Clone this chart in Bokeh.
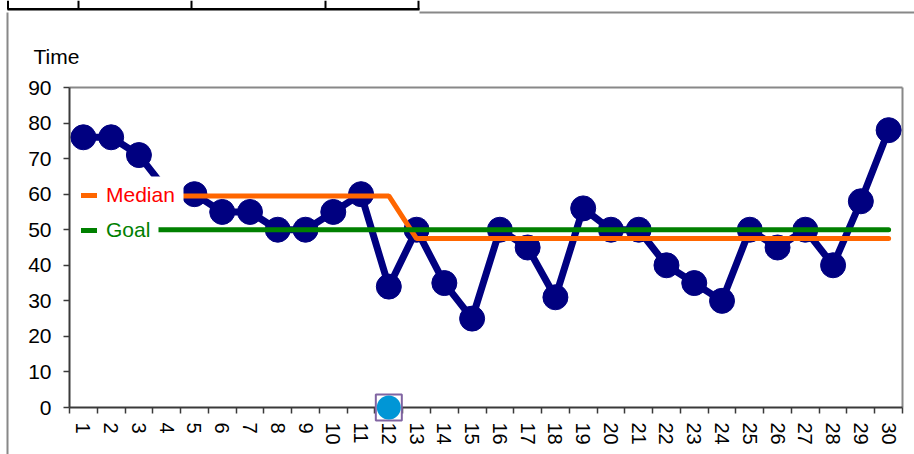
import math
from bokeh.plotting import figure
from bokeh.models import (Range1d, LinearAxis, FixedTicker, Legend, LegendItem, Label)
from bokeh.embed import file_html
from bokeh.resources import INLINE

# ---- data ----
samples = list(range(1, 31))
times = [76, 76, 71, 61, 60, 55, 55, 50, 50, 55,
         60, 34, 50, 35, 25, 50, 45, 31, 56, 50,
         50, 40, 35, 30, 50, 45, 50, 40, 58, 78]
median = [59.5] * 12 + [47.5] * 18
goal = [50] * 30
flag_x = [12]
flag_y = [0]
y_ticks = [0, 10, 20, 30, 40, 50, 60, 70, 80, 90]

FONT = "Liberation Sans"
W, H = 914, 454

# plot-area placement in canvas pixels
PL, PR, PT, PB = 69, 902, 87, 407
x_lo, x_hi = samples[0] - 0.5, samples[-1] + 0.5
y_lo, y_hi = y_ticks[0], y_ticks[-1]
ppu_x = (PR - PL) / (x_hi - x_lo)
ppu_y = (PB - PT) / (y_hi - y_lo)


def px2x(px):
    return x_lo + (px - PL) / ppu_x


def py2y(py):
    return y_lo + (PB - py) / ppu_y


p = figure(width=W, height=H, output_backend="svg", toolbar_location=None,
           x_axis_type=None, y_axis_type=None,
           x_range=Range1d(px2x(0), px2x(W)),
           y_range=Range1d(py2y(H), py2y(0)),
           min_border_left=0, min_border_right=0,
           min_border_top=0, min_border_bottom=0)
p.outline_line_color = None
p.xgrid.visible = False
p.ygrid.visible = False
p.background_fill_color = "white"
p.border_fill_color = "white"

AXC = "#3a3a3a"
GRAY = "#888888"

# surrounding chart furniture: bottom edge of a table and the chart border
p.quad(left=[px2x(0)], right=[px2x(419)], top=[py2y(0)], bottom=[py2y(12)],
       fill_color="white", line_color=None)
p.quad(left=[px2x(7)], right=[px2x(419)], top=[py2y(7.5)], bottom=[py2y(10)],
       fill_color="black", line_color=None)
col_edges = (7.5, 78, 191, 325, 418)
p.segment(x0=[px2x(x) for x in col_edges], y0=[py2y(0)] * 5,
          x1=[px2x(x) for x in col_edges], y1=[py2y(9)] * 5,
          line_color="black", line_width=2)
p.segment(x0=[px2x(419), px2x(7)], y0=[py2y(12), py2y(12)],
          x1=[px2x(W), px2x(7)], y1=[py2y(12), py2y(H)],
          line_color=GRAY, line_width=2)

# plot area border (top and right)
p.segment(x0=[x_lo, x_hi], y0=[y_hi, y_lo], x1=[x_hi, x_hi], y1=[y_hi, y_hi],
          line_color=GRAY, line_width=2)

# y axis
ya = LinearAxis(ticker=FixedTicker(ticks=y_ticks), fixed_location=x_lo,
                bounds=(y_lo, y_hi))
ya.axis_line_color = AXC
ya.axis_line_width = 2
ya.major_tick_line_color = AXC
ya.major_tick_line_width = 1.5
ya.major_tick_out = 6
ya.major_tick_in = 0
ya.minor_tick_line_color = None
ya.major_label_standoff = 12
ya.major_label_text_font = FONT
ya.major_label_text_font_size = "21px"
ya.major_label_text_color = "black"
p.add_layout(ya, "left")

# x axis
boundaries = [s - 0.5 for s in samples] + [samples[-1] + 0.5]
xa = LinearAxis(ticker=FixedTicker(ticks=samples, minor_ticks=boundaries),
                fixed_location=y_lo, bounds=(x_lo, x_hi))
xa.axis_line_color = AXC
xa.axis_line_width = 2
xa.major_tick_out = 0
xa.major_tick_in = 0
xa.major_tick_line_color = None
xa.minor_tick_line_color = AXC
xa.minor_tick_line_width = 1.5
xa.minor_tick_out = 6
xa.minor_tick_in = 0
xa.major_label_orientation = -math.pi / 2
xa.major_label_standoff = 9
xa.major_label_text_font = FONT
xa.major_label_text_font_size = "20px"
xa.major_label_text_color = "black"
p.add_layout(xa, "below")

# data
NAVY = "#000080"
p.line(samples, times, line_color=NAVY, line_width=7)
p.scatter(samples, times, size=25, fill_color=NAVY, line_color=NAVY)

r_med = p.line(samples, median, line_color="#FF6600", line_width=5, line_cap="round")
r_goal = p.line(samples, goal, line_color="#008000", line_width=5, line_cap="round")

# white legend backgrounds (cover the series behind the key)
p.quad(left=[px2x(75), px2x(75)], right=[px2x(183), px2x(158)],
       top=[py2y(176), py2y(212)], bottom=[py2y(212), py2y(247)],
       fill_color="white", line_color=None)

# flagged point
p.scatter(flag_x, flag_y, marker="square", size=26, fill_color="white",
          line_color="#8064A2", line_width=2, level="overlay")
p.scatter(flag_x, flag_y, size=24, fill_color="#0096D6", line_color=None,
          level="overlay")


def make_legend(label, renderer, color, loc):
    lg = Legend(items=[LegendItem(label=label, renderers=[renderer])],
                location=loc, padding=0, glyph_width=16, glyph_height=24,
                label_height=24, label_standoff=9, spacing=0, margin=0,
                background_fill_alpha=0, border_line_color=None,
                label_text_font=FONT, label_text_font_size="21px",
                label_text_color=color)
    p.add_layout(lg)


make_legend("Median", r_med, "#FF0000", (81, H - 207))
make_legend("Goal", r_goal, "#008000", (81, H - 242))

# axis title
p.add_layout(Label(x=px2x(33), y=py2y(56), text="Time",
                   text_font=FONT, text_font_size="21px", text_color="black",
                   text_baseline="alphabetic", text_align="left"))

open("out.html", "w").write(file_html(p, INLINE))
